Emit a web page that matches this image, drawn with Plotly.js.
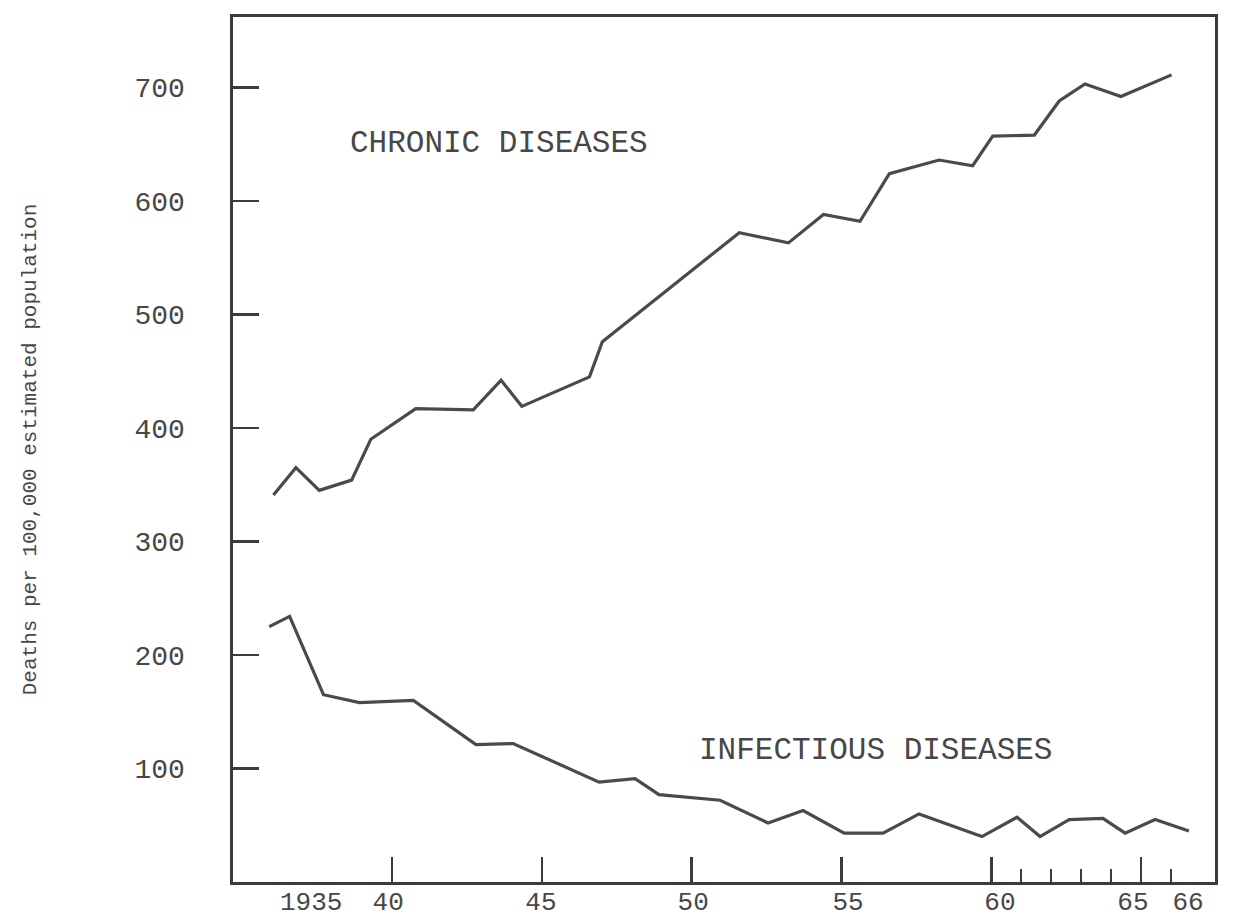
<!DOCTYPE html>
<html>
<head>
<meta charset="utf-8">
<script src="https://cdn.plot.ly/plotly-3.0.1.min.js"></script>
<style>
  html, body { margin: 0; padding: 0; background: #ffffff; }
  #chart { width: 1254px; height: 921px; }
</style>
</head>
<body>
<div id="chart"></div>
<script>
// ---- data ----
const chronicYears = [1936.04, 1936.79, 1937.57, 1938.65, 1939.29, 1940.79, 1942.71, 1943.64, 1944.33,
  1946.59, 1947.02, 1951.59, 1953.23, 1954.40, 1955.62, 1956.60, 1958.26, 1959.38, 1960.05,
  1961.44, 1962.27, 1963.13, 1964.33, 1966.02];
const chronicValues = [341, 365, 345, 354, 390, 417, 416, 442, 419,
  445, 476, 572, 563, 588, 582, 624, 636, 631, 657,
  658, 688, 703, 692, 711];

const infectiousYears = [1935.90, 1936.58, 1937.71, 1938.91, 1940.71, 1942.80, 1944.04, 1946.91,
  1948.11, 1948.91, 1950.95, 1952.55, 1953.72, 1955.09, 1956.39, 1957.59, 1959.69, 1960.86,
  1961.63, 1962.60, 1963.73, 1964.47, 1965.47, 1966.60];
const infectiousValues = [225, 234, 165, 158, 160, 121, 122, 88,
  91, 77, 72, 52, 63, 43, 43, 60, 40, 57,
  40, 55, 56, 43, 55, 45];

const majorTickYears = [1940, 1945, 1950, 1955, 1960, 1965];
const minorTickYears = [1961, 1962, 1963, 1964, 1966];
const xLabelPositions = [1937.30, 1939.87, 1944.97, 1950.05, 1955.22, 1960.29, 1964.73, 1966.57];
const xLabelTexts = ['1935', '40', '45', '50', '55', '60', '65', '66'];

const yTickValues = [100, 200, 300, 400, 500, 600, 700];
const yTickTexts = ['100', '200', '300', '400', '500', '600', '700'];

const seriesNames = ['CHRONIC DISEASES', 'INFECTIOUS DISEASES'];
const yTitle = 'Deaths per 100,000 estimated population';

// ---- styling ----
const ink = '#3b3b3b';
const textInk = '#474747';
const lineInk = '#4a4a4a';
const mono = '"Liberation Mono", "Courier New", monospace';
const xRange = [1934.69, 1967.47];
const yRange = [0, 762];

const traces = [
  {
    x: chronicYears, y: chronicValues, name: seriesNames[0],
    type: 'scatter', mode: 'lines', xaxis: 'x', yaxis: 'y',
    line: { color: lineInk, width: 3.2 },
    hoverinfo: 'x+y'
  },
  {
    x: infectiousYears, y: infectiousValues, name: seriesNames[1],
    type: 'scatter', mode: 'lines', xaxis: 'x2', yaxis: 'y',
    line: { color: lineInk, width: 3.2 },
    hoverinfo: 'x+y'
  }
];

const layout = {
  width: 1254, height: 921,
  margin: { l: 233, r: 39, t: 17, b: 39 },
  paper_bgcolor: '#ffffff', plot_bgcolor: '#ffffff',
  showlegend: false,
  font: { family: mono, color: textInk },
  xaxis: {
    range: xRange, showgrid: false, zeroline: false,
    showline: true, linecolor: ink, linewidth: 2.6, mirror: true,
    tickmode: 'array', tickvals: majorTickYears,
    ticks: 'inside', ticklen: 25, tickwidth: 2.6, tickcolor: ink,
    showticklabels: false,
    minor: { tickmode: 'array', tickvals: minorTickYears, ticks: 'inside',
             ticklen: 13, tickwidth: 2.6, tickcolor: ink, showgrid: false }
  },
  xaxis2: {
    overlaying: 'x', side: 'bottom', anchor: 'y',
    range: xRange, showgrid: false, zeroline: false, showline: false,
    tickmode: 'array', tickvals: xLabelPositions, ticktext: xLabelTexts,
    ticks: '', ticklabelstandoff: 1,
    tickfont: { family: mono, size: 26, color: textInk }
  },
  yaxis: {
    range: yRange, showgrid: false, zeroline: false,
    showline: true, linecolor: ink, linewidth: 2.6, mirror: true,
    tickmode: 'array', tickvals: yTickValues, ticktext: yTickTexts,
    ticks: 'inside', ticklen: 26, tickwidth: 2.8, tickcolor: ink,
    ticklabelstandoff: 40,
    tickfont: { family: mono, size: 28, color: textInk },
    title: { text: yTitle, standoff: 92, font: { family: mono, size: 21, color: textInk } }
  },
  annotations: [
    { x: 1938.53, y: 651, xref: 'x', yref: 'y', text: seriesNames[0],
      showarrow: false, xanchor: 'left', yanchor: 'middle',
      font: { family: mono, size: 31, color: textInk } },
    { x: 1950.18, y: 116, xref: 'x', yref: 'y', text: seriesNames[1],
      showarrow: false, xanchor: 'left', yanchor: 'middle',
      font: { family: mono, size: 31, color: textInk } }
  ]
};

Plotly.newPlot('chart', traces, layout, { displayModeBar: false, staticPlot: true });
</script>
</body>
</html>
